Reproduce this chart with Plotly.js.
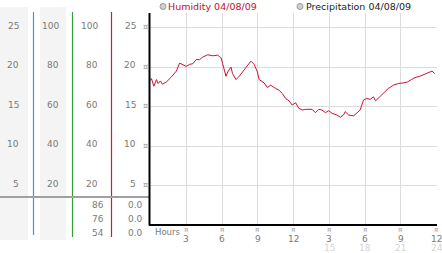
<!DOCTYPE html>
<html><head><meta charset="utf-8">
<script src="https://cdn.plot.ly/plotly-3.0.1.min.js"></script>
<style>html,body{margin:0;padding:0;background:#fff}#chart{width:442px;height:253px}</style>
</head><body><div id="chart"></div>
<script>
var hours = [0,0.08,0.28,0.5,0.63,0.83,1.0,1.33,1.75,2.17,2.44,2.72,3.0,3.28,3.55,3.83,4.11,4.38,4.8,5.22,5.63,5.78,5.92,6.05,6.33,6.47,6.75,6.88,7.17,7.44,8.0,8.42,8.69,8.97,9.11,9.53,9.8,10.08,10.5,10.78,11.05,11.33,11.61,11.88,12.17,12.44,12.72,13.0,13.55,13.83,14.11,14.38,14.67,14.94,15.22,15.63,15.92,16.19,16.33,16.61,17.03,17.3,17.58,17.86,18.13,18.42,18.69,18.88,19.25,19.67,19.94,20.36,20.78,21.19,21.55,21.88,22.17,22.58,23.0,23.42,23.61,23.83];
var humidity = [18.36,18.58,17.61,18.45,17.95,18.28,17.86,18.15,18.78,19.53,20.54,20.38,20.13,20.38,20.47,21.0,20.97,21.3,21.6,21.47,21.55,21.38,21.22,20.47,18.87,19.41,20.04,19.21,18.45,18.87,20.04,20.79,20.38,19.41,18.45,18.03,17.45,17.74,17.32,17.11,16.69,16.06,15.76,15.22,15.51,14.8,14.59,14.68,14.68,14.25,14.68,14.59,14.25,14.5,14.18,13.96,13.67,13.96,14.38,13.96,13.84,14.18,14.59,15.85,16.06,15.94,16.26,15.76,16.26,16.89,17.32,17.74,17.95,18.03,18.15,18.45,18.7,18.87,19.12,19.41,19.53,19.21];
var yTickVals = [25,20,15,10,5];
var col1Labels = ['25','20','15','10','5'];
var col2Labels = ['100','80','60','40','20'];
var col3Labels = ['100','80','60','40','20'];
var col4Labels = ['25','20','15','10','5'];
var summaryCol3 = ['86','76','54'];
var summaryCol4 = ['0.0','0.0','0.0'];
var xTickVals = [3,6,9,12,15,18,21,24];
var xTickText = ['3','6','9','12','3','6','9','12'];
var xTickText2 = ['','','','','15','18','21','24'];
var legendNames = ['Humidity 04/08/09','Precipitation 04/08/09'];

var W = 442, H = 253;
function px(x){return x/W;}
function py(y){return 1 - y/H;}
var F = 'DejaVu Sans, Verdana, sans-serif';
var grayTxt = '#7a7a7a';

var ann = [], shapes = [];
shapes.push({type:'rect',xref:'paper',yref:'paper',x0:px(0),x1:px(28),y0:py(240),y1:py(7),fillcolor:'#f4f4f4',line:{width:0},layer:'below'});
shapes.push({type:'rect',xref:'paper',yref:'paper',x0:px(40),x1:px(66),y0:py(240),y1:py(7),fillcolor:'#f4f4f4',line:{width:0},layer:'below'});
shapes.push({type:'line',xref:'paper',yref:'paper',x0:px(33.5),x1:px(33.5),y0:py(235),y1:py(12),line:{color:'#3a9ccc',width:1.2}});
shapes.push({type:'line',xref:'paper',yref:'paper',x0:px(72.5),x1:px(72.5),y0:py(237),y1:py(12),line:{color:'#33a033',width:1.2}});
shapes.push({type:'line',xref:'paper',yref:'paper',x0:px(111.5),x1:px(111.5),y0:py(237),y1:py(12),line:{color:'#c02238',width:1.2}});
shapes.push({type:'line',xref:'paper',yref:'paper',x0:px(0),x1:px(149),y0:py(197),y1:py(197),line:{color:'#a0a0a0',width:2}});
shapes.push({type:'line',xref:'paper',yref:'paper',x0:px(149.5),x1:px(149.5),y0:py(225.5),y1:py(13),line:{color:'#000',width:2}});
shapes.push({type:'line',xref:'paper',yref:'paper',x0:px(149),x1:px(437),y0:py(225),y1:py(225),line:{color:'#000',width:2}});

function lab(text,xr,yv,color){
  ann.push({text:text,xref:'paper',yref:'y',x:px(xr),y:yv,xanchor:'right',yanchor:'middle',yshift:2,showarrow:false,font:{family:F,size:9,color:color||grayTxt}});
}
for (var i=0;i<yTickVals.length;i++){
  lab(col1Labels[i],20.5,yTickVals[i]);
  lab(col2Labels[i],60.5,yTickVals[i]);
  lab(col3Labels[i],99.5,yTickVals[i]);
  lab(col4Labels[i],137.5,yTickVals[i]);
  ann.push({text:'¤',xref:'paper',yref:'y',x:px(145),y:yTickVals[i],xanchor:'center',yanchor:'middle',showarrow:false,font:{family:F,size:8,color:'#999'}});
}
var rowsY = [205,219,232.5];
for (var j=0;j<summaryCol3.length;j++){
  ann.push({text:summaryCol3[j],xref:'paper',yref:'paper',x:px(105.5),y:py(rowsY[j]),xanchor:'right',yanchor:'middle',showarrow:false,font:{family:F,size:9,color:grayTxt}});
  ann.push({text:summaryCol4[j],xref:'paper',yref:'paper',x:px(144.5),y:py(rowsY[j]),xanchor:'right',yanchor:'middle',showarrow:false,font:{family:F,size:9,color:grayTxt}});
}
ann.push({text:'Hours',xref:'paper',yref:'paper',x:px(153),y:py(232),xanchor:'left',yanchor:'middle',showarrow:false,font:{family:F,size:8.5,color:grayTxt}});
for (var k=0;k<xTickVals.length;k++){
  ann.push({text:'¤',xref:'x',yref:'paper',x:xTickVals[k],y:py(229.5),xanchor:'center',yanchor:'middle',showarrow:false,font:{family:F,size:7,color:'#999'}});
  ann.push({text:xTickText[k],xref:'x',yref:'paper',x:xTickVals[k],y:py(239),xanchor:'center',yanchor:'middle',showarrow:false,font:{family:F,size:9,color:grayTxt}});
  if (xTickText2[k]) ann.push({text:xTickText2[k],xref:'x',yref:'paper',x:xTickVals[k],y:py(247.5),xanchor:'center',yanchor:'middle',showarrow:false,font:{family:F,size:9,color:'#d4d4d4'}});
}
shapes.push({type:'circle',xref:'paper',yref:'paper',x0:px(160),x1:px(166),y0:py(9.5),y1:py(3.5),fillcolor:'#d0d0d0',line:{color:'#999',width:1}});
shapes.push({type:'circle',xref:'paper',yref:'paper',x0:px(297),x1:px(303),y0:py(9.5),y1:py(3.5),fillcolor:'#d0d0d0',line:{color:'#999',width:1}});
ann.push({text:legendNames[0],xref:'paper',yref:'paper',x:px(166),y:py(6.5),xanchor:'left',yanchor:'middle',showarrow:false,font:{family:F,size:9.5,color:'#c4102a'}});
ann.push({text:legendNames[1],xref:'paper',yref:'paper',x:px(303.5),y:py(6.5),xanchor:'left',yanchor:'middle',showarrow:false,font:{family:F,size:9.5,color:'#222'}});

var trace = {x:hours,y:humidity,type:'scatter',mode:'lines',line:{color:'#cc1133',width:1},hoverinfo:'skip'};
var layout = {
  width:W,height:H,margin:{l:0,r:0,t:0,b:0},paper_bgcolor:'#fff',plot_bgcolor:'#fff',showlegend:false,
  xaxis:{domain:[149.3/W,436.7/W],range:[-0.1,24],tickvals:xTickVals,showticklabels:false,ticks:'',showgrid:true,gridcolor:'#dcdcdc',gridwidth:1,zeroline:false,showline:false,fixedrange:true},
  yaxis:{domain:[(H-225)/H,(H-13)/H],range:[0,26.9],tickvals:yTickVals,showticklabels:false,ticks:'',showgrid:true,gridcolor:'#dcdcdc',gridwidth:1,zeroline:false,showline:false,fixedrange:true},
  shapes:shapes,annotations:ann
};
Plotly.newPlot('chart',[trace],layout,{displayModeBar:false,staticPlot:true});
</script></body></html>
